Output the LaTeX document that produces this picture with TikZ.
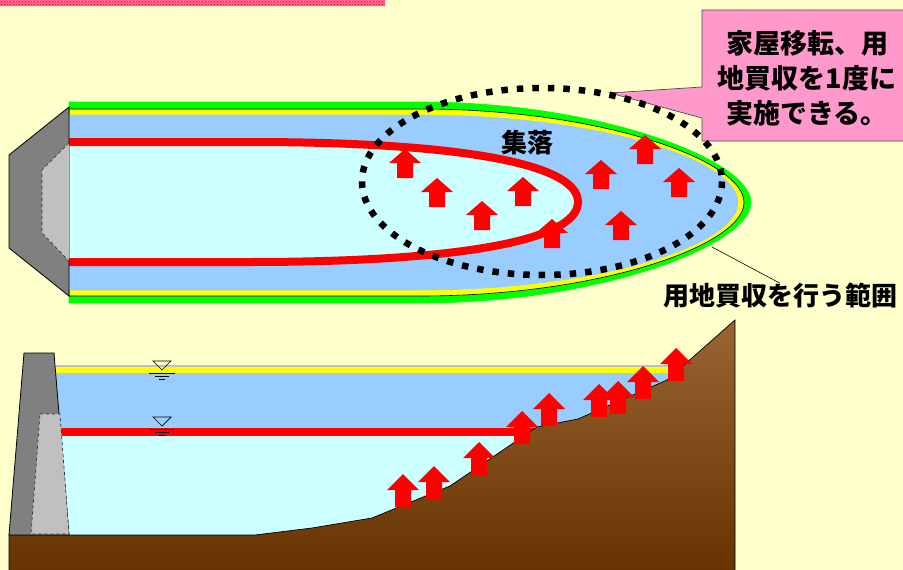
\documentclass[tikz,border=0pt]{standalone}
\usepackage{fontspec}
\newfontfamily\jp{Noto Sans CJK JP}
\usetikzlibrary{patterns}

\definecolor{fundo}{HTML}{FFFFCC}
\definecolor{verde}{HTML}{00FF00}
\definecolor{amarelo}{HTML}{FFFF00}
\definecolor{azul}{HTML}{99CCFF}
\definecolor{ciano}{HTML}{CCFFFF}
\definecolor{rosa}{HTML}{FF99CC}
\definecolor{faixarosa}{HTML}{FF6699}
\definecolor{cinza}{HTML}{808080}
\definecolor{cinzaclaro}{HTML}{C0C0C0}
\definecolor{terraclara}{HTML}{996633}
\definecolor{terraescura}{HTML}{663300}

\tikzset{
  rotulo/.style={font=\jp\bfseries\fontsize{26}{26}\selectfont, inner sep=0pt},
  barragem/.style={fill=cinza, draw=black, line width=0.8pt},
  nucleo/.style={fill=cinzaclaro, draw=black!80, dashed, line width=0.7pt},
  pontilhado/.style={draw=black, line width=6.5pt, dash pattern=on 6.5pt off 9pt},
}

\begin{document}
\begin{tikzpicture}
  [x=1pt, y=-1pt]

  % Fundo
  \useasboundingbox (0,0) rectangle (903,570);
  \clip (0,0) rectangle (903,570);
  \fill[fundo] (0,0) rectangle (903,570);
  \fill[faixarosa] (0,0) rectangle (385,6);
  \fill[pattern=crosshatch dots, pattern color=red] (0,0) rectangle (385,6);

  % Planta: faixas verde e amarela e o reservatório
  \foreach \d/\cor/\borda in {0/verde/verde, 7/amarelo/black, 13/azul/azul}
    \filldraw[fill=\cor, draw=\borda, line width=0.6pt]
      (69,{102+\d}) -- (420,{102+\d})
      .. controls (600,{102+\d}) and ({751-\d},160) .. ({751-\d},202.5)
      .. controls ({751-\d},245) and (600,{303-\d}) .. (420,{303-\d})
      -- (69,{303-\d}) -- cycle;

  % Nível mais baixo (linha vermelha)
  \filldraw[fill=ciano, draw=red, line width=8pt]
    (60,142) -- (250,142) .. controls (450,142) and (578,162) .. (578,202)
    .. controls (578,242) and (450,262) .. (250,262) -- (60,262);

  % Casas a realocar (planta)
  \foreach \x/\y in {405/149, 437/178, 482/201, 523/177, 552/219,
                     601/160, 645/135, 679/168, 621/211}
    \fill[red] (\x,\y) -- ++(16,14) -- ++(-8,0) -- ++(0,15) -- ++(-16,0)
      -- ++(0,-15) -- ++(-8,0) -- cycle;

  % Barragem em planta
  \draw[barragem] (9,155) -- (69,107) -- (69,296) -- (9,248) -- cycle;
  \draw[nucleo] (69,143) -- (42,170) -- (42,233) -- (69,261);

  % Balão com a vantagem
  \filldraw[fill=rosa, draw=black!70, line width=0.7pt]
    (702,10) -- (910,10) -- (910,141) -- (702,141) -- (702,118)
    -- (610,93) -- (702,87) -- cycle;
  \node[rotulo, font=\jp\bfseries\fontsize{27}{35}\selectfont, align=center]
    (vantagem) at (807,78) {家屋移転、用\\地買収を1度に\\実施できる。};

  % Área do vilarejo (pontilhado)
  \draw[pontilhado] (542,181.5) ellipse [x radius=180, y radius=93.5];
  \node[rotulo] (vila) at (527,143) {集落};

  % Faixa de desapropriação
  \coordinate (borda) at (712,247);
  \node[rotulo] (faixa) at (780,296) {用地買収を行う範囲};
  \draw[line width=0.6pt] (borda) -- (faixa.north);

  % Corte: água
  \fill[ciano] (50,432) rectangle (735,535);
  \fill[azul] (50,373) rectangle (735,432);
  \fill[amarelo] (56,367) rectangle (690,373);
  \draw[cinzaclaro, line width=1.2pt] (56,366) -- (690,366);
  \draw[red, line width=8pt] (60,432) -- (535,432);

  % Marcas de nível d'água
  \foreach \y in {361, 417} {
    \draw[line width=0.7pt] (153,\y) -- (171,\y) -- (162,\y+9) -- cycle;
    \draw[line width=0.7pt] (149,\y+12) -- (175,\y+12);
    \draw[line width=0.7pt] (155,\y+15) -- (169,\y+15);
    \draw[line width=0.7pt] (159,\y+18) -- (165,\y+18);
  }

  % Terreno
  \draw[top color=terraclara, bottom color=terraescura, draw=black, line width=0.7pt]
    (9,535) -- (255,535) -- (312,528) -- (372,518) -- (450,486) -- (537,427)
    -- (578,419) -- (667,380) -- (735,320) -- (735,575) -- (9,575) -- cycle;

  % Barragem em corte
  \draw[barragem] (9,535) -- (24,353) -- (54,353) -- (69,535) -- cycle;
  \draw[nucleo] (40,414) -- (60,414) -- (69,534) -- (31,534) -- cycle;

  % Casas a realocar (corte)
  \foreach \x/\y in {403/474, 434/466, 479/442, 522/411, 549/393,
                     599/384, 618/381, 643/366, 676/348}
    \fill[red] (\x,\y) -- ++(16,16) -- ++(-8,0) -- ++(0,17) -- ++(-16,0)
      -- ++(0,-17) -- ++(-8,0) -- cycle;
\end{tikzpicture}
\end{document}
